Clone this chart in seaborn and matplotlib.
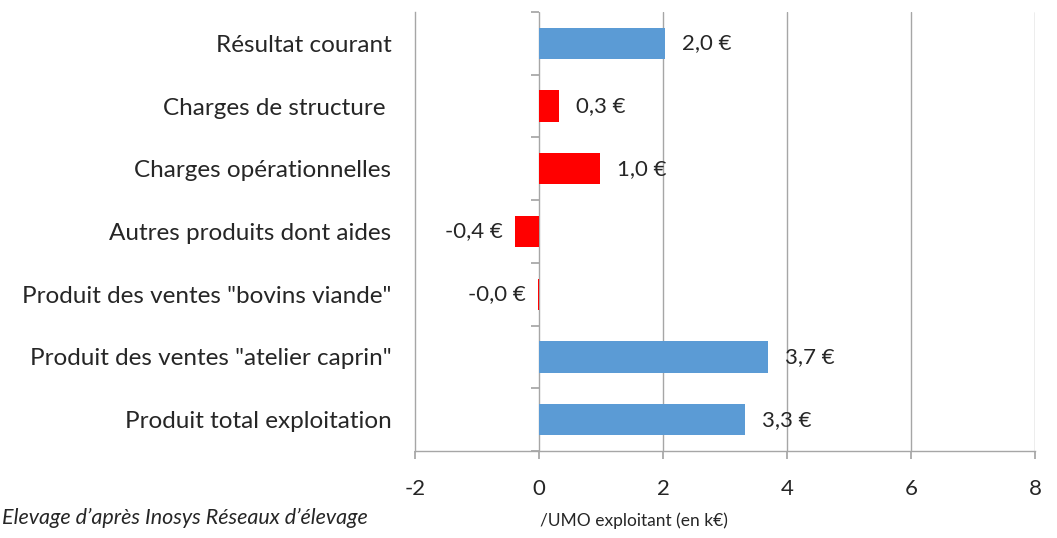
import numpy as np
import pandas as pd
import matplotlib
matplotlib.use("Agg")
import matplotlib.pyplot as plt
import seaborn as sns

# ── data ──────────────────────────────────────────────────────────────────────
categories = [
    "Résultat courant",
    "Charges de structure ",
    "Charges opérationnelles",
    "Autres produits dont aides",
    'Produit des ventes "bovins viande"',
    'Produit des ventes "atelier caprin"',
    "Produit total exploitation",
]
values = [2.04, 0.32, 0.99, -0.38, -0.01, 3.69, 3.32]
labels = ["2,0 €", "0,3 €", "1,0 €", "-0,4 €", "-0,0 €", "3,7 €", "3,3 €"]
kinds = ["result", "charge", "charge", "charge", "charge", "product", "product"]
x_ticks = [-2, 0, 2, 4, 6, 8]

palette = {"result": "#5B9BD5", "product": "#5B9BD5", "charge": "#FF0000"}
grid_col = "#A6A6A6"

sns.set_theme(style="white")
plt.rcParams["font.family"] = ["Lato", "DejaVu Sans"]

df = pd.DataFrame({"cat": categories, "val": values, "kind": kinds})

fig = plt.figure(figsize=(10.57, 5.38), dpi=100)
ax = fig.add_axes([415 / 1057, 1 - 451 / 538, (1035 - 415) / 1057, (451 - 12) / 538])

sns.barplot(data=df, y="cat", x="val", hue="kind", palette=palette,
            orient="h", width=0.5, legend=False, ax=ax, saturation=1,
            linewidth=0)

ax.set_xlim(-2, 8)
ax.set_ylim(len(categories) - 0.5, -0.5)
ax.set_xticks(x_ticks)
ax.set_xticklabels([str(t) for t in x_ticks])
ax.set_xlabel(""); ax.set_ylabel("")

# vertical gridlines (not at -2, that is the left spine)
for t in x_ticks[1:]:
    ax.axvline(t, color=grid_col, lw=1, zorder=0)

for s in ["top", "right"]:
    ax.spines[s].set_visible(False)
for s in ["left", "bottom"]:
    ax.spines[s].set_color(grid_col)
    ax.spines[s].set_linewidth(1)

ax.tick_params(axis="x", length=6, color=grid_col, direction="out",
               labelsize=16, pad=14, bottom=True)
ax.tick_params(axis="y", length=0, labelsize=17.5, pad=17)

# tick marks at category boundaries on the x=0 line
sec = ax.secondary_yaxis((0 - (-2)) / 10)
sec.set_yticks(np.arange(-0.5, len(categories), 1.0))
sec.set_yticklabels([])
sec.tick_params(axis="y", length=6, color=grid_col, direction="out")
sec.spines["left"].set_visible(False)

# value labels
for i, (v, lab) in enumerate(zip(values, labels)):
    if v >= 0:
        ax.text(v + 0.27, i, lab, ha="left", va="center", fontsize=16)
    else:
        ax.text(v - 0.2, i, lab, ha="right", va="center", fontsize=16)

fig.text(2 / 1057, 1 - 518 / 538, "Elevage d’après Inosys Réseaux d’élevage",
         ha="left", va="center", fontsize=15.5, style="italic")
fig.text(540 / 1057, 1 - 521 / 538, "/UMO exploitant (en k€)",
         ha="left", va="center", fontsize=12.5)

fig.savefig("out.png", dpi=100, facecolor="white")
